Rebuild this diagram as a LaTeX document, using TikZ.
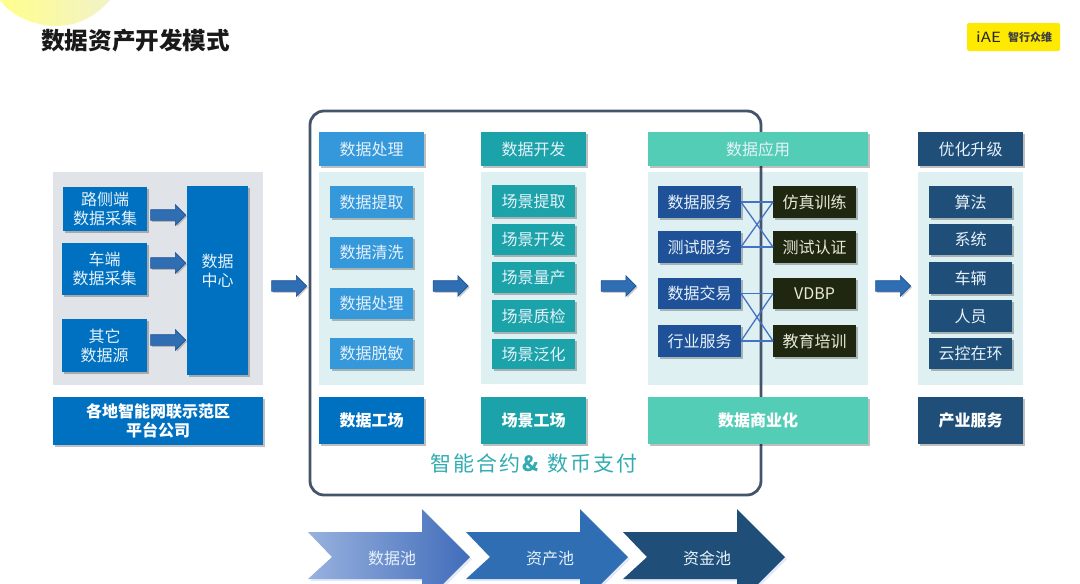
\documentclass[tikz,border=0pt]{standalone}
\usepackage{fontspec}
\setmainfont{Noto Sans CJK SC}
\usetikzlibrary{shadows,shapes.arrows}
\definecolor{cBlue}{HTML}{0070C0}
\definecolor{cLight}{HTML}{3498DB}
\definecolor{cTeal}{HTML}{1BA3A9}
\definecolor{cMint}{HTML}{54CDB7}
\definecolor{cNavy}{HTML}{1F4E79}
\definecolor{cPanel}{HTML}{DEF0F2}
\definecolor{cGrey}{HTML}{E0E3E7}
\definecolor{cServ}{HTML}{1F5199}
\definecolor{cDark}{HTML}{1F2711}
\definecolor{cDarkTxt}{HTML}{E8E8D8}
\definecolor{cFrame}{HTML}{44546A}
\definecolor{cArrow}{HTML}{2F6EB3}
\definecolor{cLine}{HTML}{4472C4}
\definecolor{cTxt}{HTML}{E6F2FA}
\definecolor{cBlobA}{HTML}{FFFF8C}
\definecolor{cBlobB}{HTML}{F2F2C8}
\newcommand\bx[7]{\node[box,#6,minimum width={#4-#2},minimum height={#5-#3}] (#1) at ({(#2+#4)/2},{(#3+#5)/2}) {#7};}
\tikzset{
  box/.style={inner sep=0pt,outer sep=0pt,align=center,text=cTxt,font=\fontsize{16}{19}\selectfont,
    drop shadow={shadow xshift=2pt,shadow yshift=-2pt,fill=black,opacity=.25}},
  bold/.style={font=\fontsize{16}{19}\selectfont\bfseries,text=white},
  bArrow/.style={shape=single arrow,fill=cArrow,draw=cServ,line width=.6pt,inner sep=5pt,outer sep=0pt,
    minimum width=20pt,minimum height=35pt,single arrow head extend=5pt,single arrow tip angle=90,
    drop shadow={shadow xshift=1.5pt,shadow yshift=-1.5pt,fill=black,opacity=.2}},
  link/.style={draw=cLine,line width=1.3pt},
  chev/.style={drop shadow={shadow xshift=2pt,shadow yshift=-2pt,fill=cLine,opacity=.15}},
  chevText/.style={text=cTxt,font=\fontsize{16}{19}\selectfont,inner sep=0pt},
}
\begin{document}
\begin{tikzpicture}[x=1pt,y=-1pt]
\useasboundingbox (0,0) rectangle (1080,584);
\begin{scope}
\clip (0,0) rectangle (1080,584);
% top-left blob
\path[left color=cBlobA,middle color=cBlobA,right color=cBlobB]
  (0,0) .. controls (12,18) and (38,26) .. (56,26) .. controls (80,26) and (98,14) .. (110,0) -- cycle;
% chevrons
\path[chev,left color=cLine!55!white,right color=cLine!95!black]
  (308,532) -- (422,532) -- (422,509) -- (470,557) -- (422,605) -- (422,579) -- (308,579) -- (332,557) -- cycle;
\path[chev,fill=cArrow]
  (466,532) -- (580,532) -- (580,509) -- (628,557) -- (580,605) -- (580,579) -- (466,579) -- (490,557) -- cycle;
\path[chev,fill=cNavy]
  (623,532) -- (737,532) -- (737,509) -- (785,557) -- (737,605) -- (737,579) -- (623,579) -- (647,557) -- cycle;
\end{scope}
\node[chevText] (poolA) at (392,558) {数据池};
\node[chevText] (poolB) at (550,558) {资产池};
\node[chevText] (poolC) at (707,558) {资金池};
% title
\node[inner sep=0pt,anchor=west,font=\fontsize{23.6}{26}\selectfont\bfseries,text=black!90] (title) at (41,41) {数据资产开发模式};
% logo
\node[fill=yellow!92!orange,rounded corners=1.5pt,minimum width=93pt,minimum height=28pt,inner sep=0pt] (logo) at (1013.5,37) {};
\node[inner sep=0pt,anchor=west,font=\fontsize{14}{14}\selectfont,text=black!85] (logoA) at (976,37) {\scalebox{1.2}[1]{iAE}};
\node[inner sep=0pt,anchor=west,font=\fontsize{11}{12}\selectfont\bfseries,text=black!75] (logoB) at (1008,37) {智行众维};
% panels
\fill[cGrey] (53,172) rectangle (263,385);
\fill[cPanel] (319,172) rectangle (424,385);
\fill[cPanel] (481,172) rectangle (586,384);
\fill[cPanel] (648,172) rectangle (868,385);
\fill[cPanel] (918,172) rectangle (1023,385);
% frame
\draw[cFrame,line width=2.8pt,rounded corners=14pt] (310,111) rectangle (761,495);
% left group
\bx{src1}{63}{187}{147}{231}{fill=cBlue}{路侧端\\数据采集}
\bx{src2}{62}{243}{147}{295}{fill=cBlue}{车端\\数据采集}
\bx{src3}{62}{319}{147}{372}{fill=cBlue}{其它\\数据源}
\bx{hub}{187}{186}{248}{375}{fill=cBlue}{}
\node[inner sep=0pt,align=center,text=cTxt,font=\fontsize{16}{19}\selectfont] (hubText) at (217.5,270.5) {数据\\中心};
\bx{company}{53}{397}{263}{445}{fill=cBlue,bold}{各地智能网联示范区\\平台公司}
\node[bArrow] (a1) at (165.5,215) {};
\node[bArrow] (a2) at (165.5,263) {};
\node[bArrow] (a3) at (165.5,340) {};
\node[bArrow] (a4) at (286.5,286) {};
% column 1
\bx{h1}{319}{132}{424}{166}{fill=cLight}{数据处理}
\bx{p1}{330}{186}{413}{218}{fill=cLight}{数据提取}
\bx{p2}{330}{237}{413}{268}{fill=cLight}{数据清洗}
\bx{p3}{330}{288}{413}{319}{fill=cLight}{数据处理}
\bx{p4}{330}{338}{413}{369}{fill=cLight}{数据脱敏}
\bx{f1}{319}{397}{424}{444}{fill=cBlue,bold}{数据工场}
\node[bArrow] (a5) at (448,286) {};
% column 2
\bx{h2}{481}{132}{586}{166}{fill=cTeal}{数据开发}
\bx{q1}{492}{185}{575}{217}{fill=cTeal}{场景提取}
\bx{q2}{492}{224}{575}{255}{fill=cTeal}{场景开发}
\bx{q3}{492}{262}{575}{293}{fill=cTeal}{场景量产}
\bx{q4}{492}{300}{575}{332}{fill=cTeal}{场景质检}
\bx{q5}{492}{339}{575}{369}{fill=cTeal}{场景泛化}
\bx{f2}{481}{397}{586}{444}{fill=cTeal,bold}{场景工场}
\node[bArrow] (a6) at (616,286) {};
% column 3
\bx{h3}{648}{132}{868}{166}{fill=cMint}{数据应用}
\bx{s1}{658}{186}{741}{218}{fill=cServ}{数据服务}
\bx{s2}{658}{231}{741}{263}{fill=cServ}{测试服务}
\bx{s3}{658}{278}{741}{309}{fill=cServ}{数据交易}
\bx{s4}{658}{325}{741}{357}{fill=cServ}{行业服务}
\bx{t1}{773}{186}{856}{218}{fill=cDark,text=cDarkTxt}{仿真训练}
\bx{t2}{773}{231}{856}{263}{fill=cDark,text=cDarkTxt}{测试认证}
\bx{t3}{773}{278}{856}{309}{fill=cDark,text=cDarkTxt}{VDBP}
\bx{t4}{773}{325}{856}{357}{fill=cDark,text=cDarkTxt}{教育培训}
\bx{f3}{648}{397}{868}{444}{fill=cMint,bold}{数据商业化}
\foreach \l/\r in {s1/t1,s1/t2,s2/t1,s2/t2,s3/t3,s3/t4,s4/t3,s4/t4}{\draw[link] (\l.east) -- (\r.west);}
\node[bArrow] (a7) at (890.5,286) {};
% column 4
\bx{h4}{918}{132}{1023}{166}{fill=cNavy}{优化升级}
\bx{u1}{929}{186}{1012}{218}{fill=cNavy}{算法}
\bx{u2}{929}{224}{1012}{255}{fill=cNavy}{系统}
\bx{u3}{929}{262}{1012}{294}{fill=cNavy}{车辆}
\bx{u4}{929}{300}{1012}{332}{fill=cNavy}{人员}
\bx{u5}{929}{338}{1012}{369}{fill=cNavy}{云控在环}
\bx{f4}{918}{397}{1023}{444}{fill=cNavy,bold}{产业服务}
% contract label
\node[inner sep=0pt,text=cTeal!90!white,font=\fontsize{21}{24}\selectfont\addfontfeature{LetterSpace=10}] (contract) at (534,464) {智能合约\textbf{\&} 数币支付};
\end{tikzpicture}
\end{document}
